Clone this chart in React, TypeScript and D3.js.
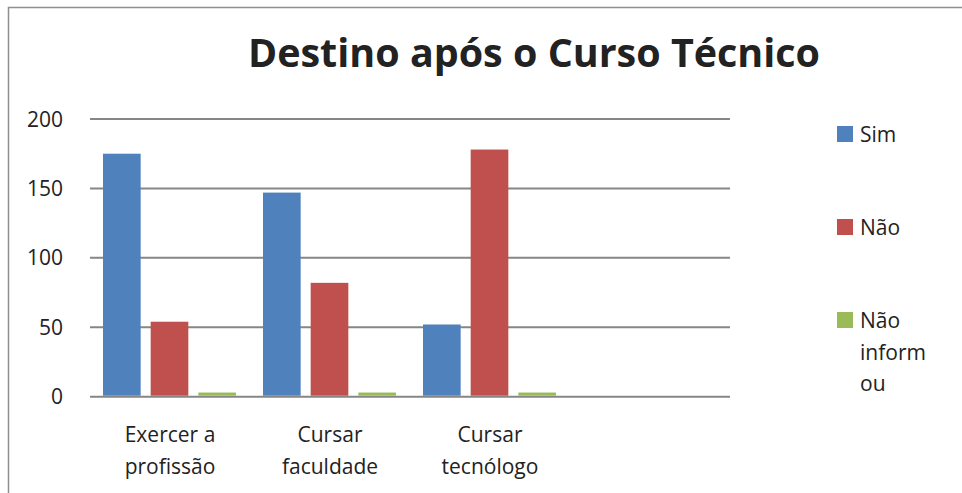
import React from "react";
import * as d3 from "d3";

const categories = ["Exercer a profissão", "Cursar faculdade", "Cursar tecnólogo", ""];
const categoryLines = [["Exercer a", "profissão"], ["Cursar", "faculdade"], ["Cursar", "tecnólogo"], []];
const seriesNames = ["Sim", "Não", "Não informou"];
const legendLines = [["Sim"], ["Não"], ["Não", "inform", "ou"]];
const sim = [175, 147, 52];
const nao = [54, 82, 178];
const naoInformou = [3, 3, 3];
const yTicks = [0, 50, 100, 150, 200];
const colors = ["#4F81BD", "#C0504D", "#9BBB59"];

const W = 962;
const H = 493;
const FONT = "'Open Sans', Lato, sans-serif";

export default function App() {
  const x = d3.scaleBand<string>().domain(categories).range([90, 730]);
  const inner = d3.scaleBand<string>().domain(seriesNames).range([13, 146]).paddingInner(0.21);
  const y = d3.scaleLinear().domain([0, 200]).range([396.7, 119]);
  const series = [sim, nao, naoInformou];

  return (
    <svg width={W} height={H} style={{ position: "absolute", left: 0, top: 0, background: "#fff" }}>
      <rect x={8.5} y={7.5} width={W + 20} height={H + 20} fill="#fff" stroke="#8f8f8f" strokeWidth={1.5} />
      <text x={534} y={67} textAnchor="middle" fontFamily={FONT} fontWeight={700} fontSize={40} fill="#222"
        textLength={572} lengthAdjust="spacingAndGlyphs">
        Destino após o Curso Técnico
      </text>
      {yTicks.map((t) => (
        <g key={t}>
          <line x1={90} x2={730} y1={y(t)} y2={y(t)} stroke="#868686" strokeWidth={2} />
          <text x={63} y={y(t) + 7.5} textAnchor="end" fontFamily={FONT} fontSize={21} fill="#222">{t}</text>
        </g>
      ))}
      {series.map((vals, si) =>
        vals.map((v, ci) => (
          <rect key={`${si}-${ci}`}
            x={(x(categories[ci]) ?? 0) + (inner(seriesNames[si]) ?? 0)}
            y={y(v)}
            width={inner.bandwidth()}
            height={y(0) - y(v) - 1}
            fill={colors[si]} />
        ))
      )}
      {categoryLines.map((lines, ci) =>
        lines.map((l, li) => (
          <text key={`${ci}-${li}`} x={(x(categories[ci]) ?? 0) + x.bandwidth() / 2} y={442 + li * 31.5}
            textAnchor="middle" fontFamily={FONT} fontSize={21} fill="#222">{l}</text>
        ))
      )}
      {legendLines.map((lines, i) => {
        const cy = [134, 227, 320][i];
        return (
          <g key={i}>
            <rect x={837} y={cy - 8} width={16} height={16} fill={colors[i]} />
            {lines.map((l, li) => (
              <text key={li} x={860} y={cy + 8 + li * 31.5} fontFamily={FONT} fontSize={21} fill="#222">{l}</text>
            ))}
          </g>
        );
      })}
    </svg>
  );
}
